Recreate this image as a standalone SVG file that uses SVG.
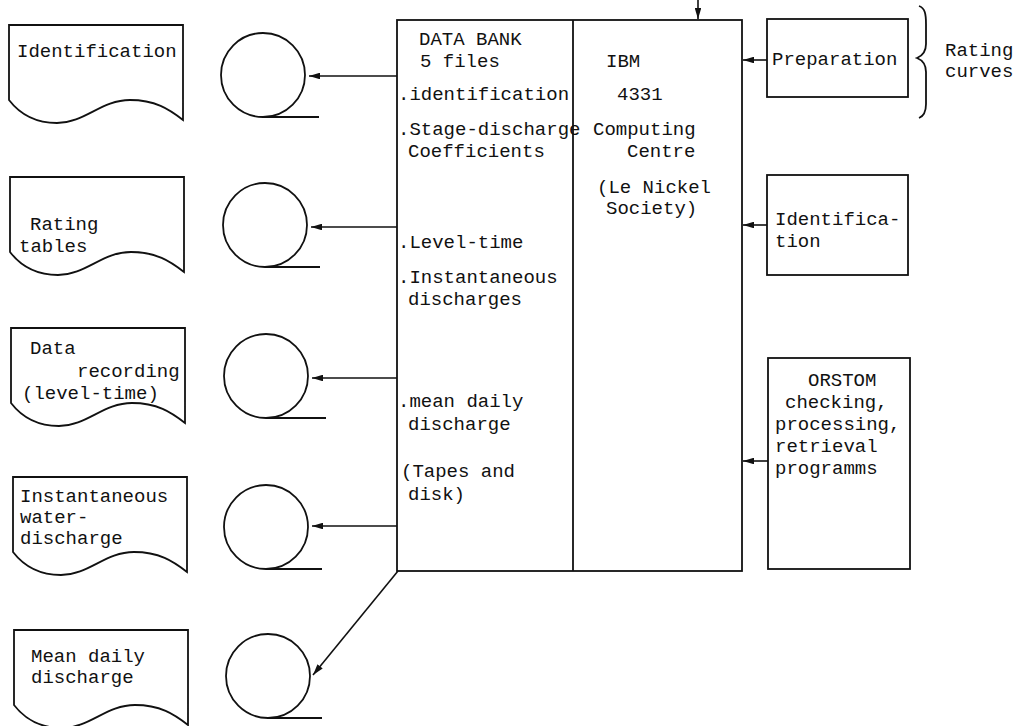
<svg xmlns="http://www.w3.org/2000/svg" xmlns:xlink="http://www.w3.org/1999/xlink" width="1020" height="726" viewBox="0 0 1020 726">
<style>
  .ln { fill: none; stroke: #111; stroke-width: 1.8; }
  .box { fill: #fff; stroke: #111; stroke-width: 1.8; }
  .arr { fill: none; stroke: #111; stroke-width: 1.6; marker-end: url(#ah); }
  text { font-family: "Liberation Mono", "DejaVu Sans Mono", monospace; font-size: 19px; fill: #111; }
</style>
<defs>
  <marker id="ah" viewBox="0 0 10 6" refX="10" refY="3" markerWidth="7" markerHeight="4.2" orient="auto" markerUnits="strokeWidth">
    <path d="M0,0 L10,3 L0,6 z" fill="#111"/>
  </marker>
  <path id="doc" d="M0,0 H174 V95 C160,84 146,75 121,75 C92,75 76,98 48,98 C26,98 10,88 0,75 Z" fill="#fff" stroke="#111" stroke-width="1.8"/>
</defs>
<rect width="1020" height="726" fill="#fff"/>

<g id="connectors">
  <line class="arr" x1="698" y1="0" x2="698" y2="19"/>
  <line class="arr" x1="767" y1="60" x2="743" y2="60"/>
  <line class="arr" x1="767" y1="225" x2="743" y2="225"/>
  <line class="arr" x1="768" y1="461" x2="743" y2="461"/>
  <line class="arr" x1="397" y1="76" x2="309" y2="76"/>
  <line class="arr" x1="397" y1="227" x2="311" y2="227"/>
  <line class="arr" x1="397" y1="378" x2="312" y2="378"/>
  <line class="arr" x1="397" y1="526" x2="312" y2="526"/>
  <line class="arr" x1="398" y1="571" x2="313" y2="675"/>
</g>

<g id="data-bank">
  <rect class="box" x="397" y="20" width="345" height="551"/>
  <line class="ln" x1="573" y1="20" x2="573" y2="571"/>
  <text x="419" y="45">DATA BANK</text>
  <text x="420" y="67">5 files</text>
  <text x="398" y="100">.identification</text>
  <text x="398" y="135">.Stage-discharge</text>
  <text x="408" y="157">Coefficients</text>
  <text x="398" y="248">.Level-time</text>
  <text x="398" y="283">.Instantaneous</text>
  <text x="408" y="305">discharges</text>
  <text x="398" y="407">.mean daily</text>
  <text x="408" y="430">discharge</text>
  <text x="401" y="477">(Tapes and</text>
  <text x="408" y="500">disk)</text>
</g>

<g id="computing-centre">
  <text x="606" y="67">IBM</text>
  <text x="617" y="100">4331</text>
  <text x="593" y="135">Computing</text>
  <text x="627" y="157">Centre</text>
  <text x="597" y="193">(Le Nickel</text>
  <text x="606" y="214">Society)</text>
</g>

<g id="preparation">
  <rect class="box" x="767" y="19" width="141" height="78"/>
  <text x="772" y="65">Preparation</text>
</g>

<g id="rating-curves">
  <path class="ln" stroke-width="1.5" d="M919,6 C925,8 926,14 926,24 L926,44 C926,52 922,56 917,58 C922,60 926,64 926,72 L926,104 C926,112 924,116 919,118"/>
  <text x="945" y="56">Rating</text>
  <text x="945" y="77">curves</text>
</g>

<g id="identification-in">
  <rect class="box" x="767" y="175" width="141" height="100"/>
  <text x="775" y="225">Identifica-</text>
  <text x="775" y="247">tion</text>
</g>

<g id="orstom">
  <rect class="box" x="768" y="358" width="142" height="211"/>
  <text x="808" y="386">ORSTOM</text>
  <text x="785" y="408">checking,</text>
  <text x="775" y="430">processing,</text>
  <text x="775" y="452">retrieval</text>
  <text x="775" y="474">programms</text>
</g>

<g id="tape1">
  <circle class="ln" cx="263" cy="75" r="42"/>
  <line class="ln" x1="263" y1="117" x2="319" y2="117"/>
</g>
<g id="tape2">
  <circle class="ln" cx="265" cy="225" r="42"/>
  <line class="ln" x1="265" y1="267" x2="320" y2="267"/>
</g>
<g id="tape3">
  <circle class="ln" cx="266" cy="376" r="42"/>
  <line class="ln" x1="266" y1="418" x2="326" y2="418"/>
</g>
<g id="tape4">
  <circle class="ln" cx="266" cy="527" r="42"/>
  <line class="ln" x1="266" y1="569" x2="322" y2="569"/>
</g>
<g id="tape5">
  <circle class="ln" cx="268" cy="676" r="42"/>
  <line class="ln" x1="268" y1="718" x2="322" y2="718"/>
</g>

<g id="doc-identification">
  <use xlink:href="#doc" x="9" y="25"/>
  <text x="17" y="57">Identification</text>
</g>
<g id="doc-rating-tables">
  <use xlink:href="#doc" x="10" y="177"/>
  <text x="30" y="230">Rating</text>
  <text x="19" y="252">tables</text>
</g>
<g id="doc-data-recording">
  <use xlink:href="#doc" x="11" y="328"/>
  <text x="30" y="354">Data</text>
  <text x="77" y="377">recording</text>
  <text x="22" y="399">(level-time)</text>
</g>
<g id="doc-instantaneous">
  <use xlink:href="#doc" x="13" y="477"/>
  <text x="20" y="502">Instantaneous</text>
  <text x="20" y="523">water-</text>
  <text x="20" y="544">discharge</text>
</g>
<g id="doc-mean-daily">
  <use xlink:href="#doc" x="14" y="630"/>
  <text x="31" y="662">Mean daily</text>
  <text x="31" y="683">discharge</text>
</g>
</svg>
